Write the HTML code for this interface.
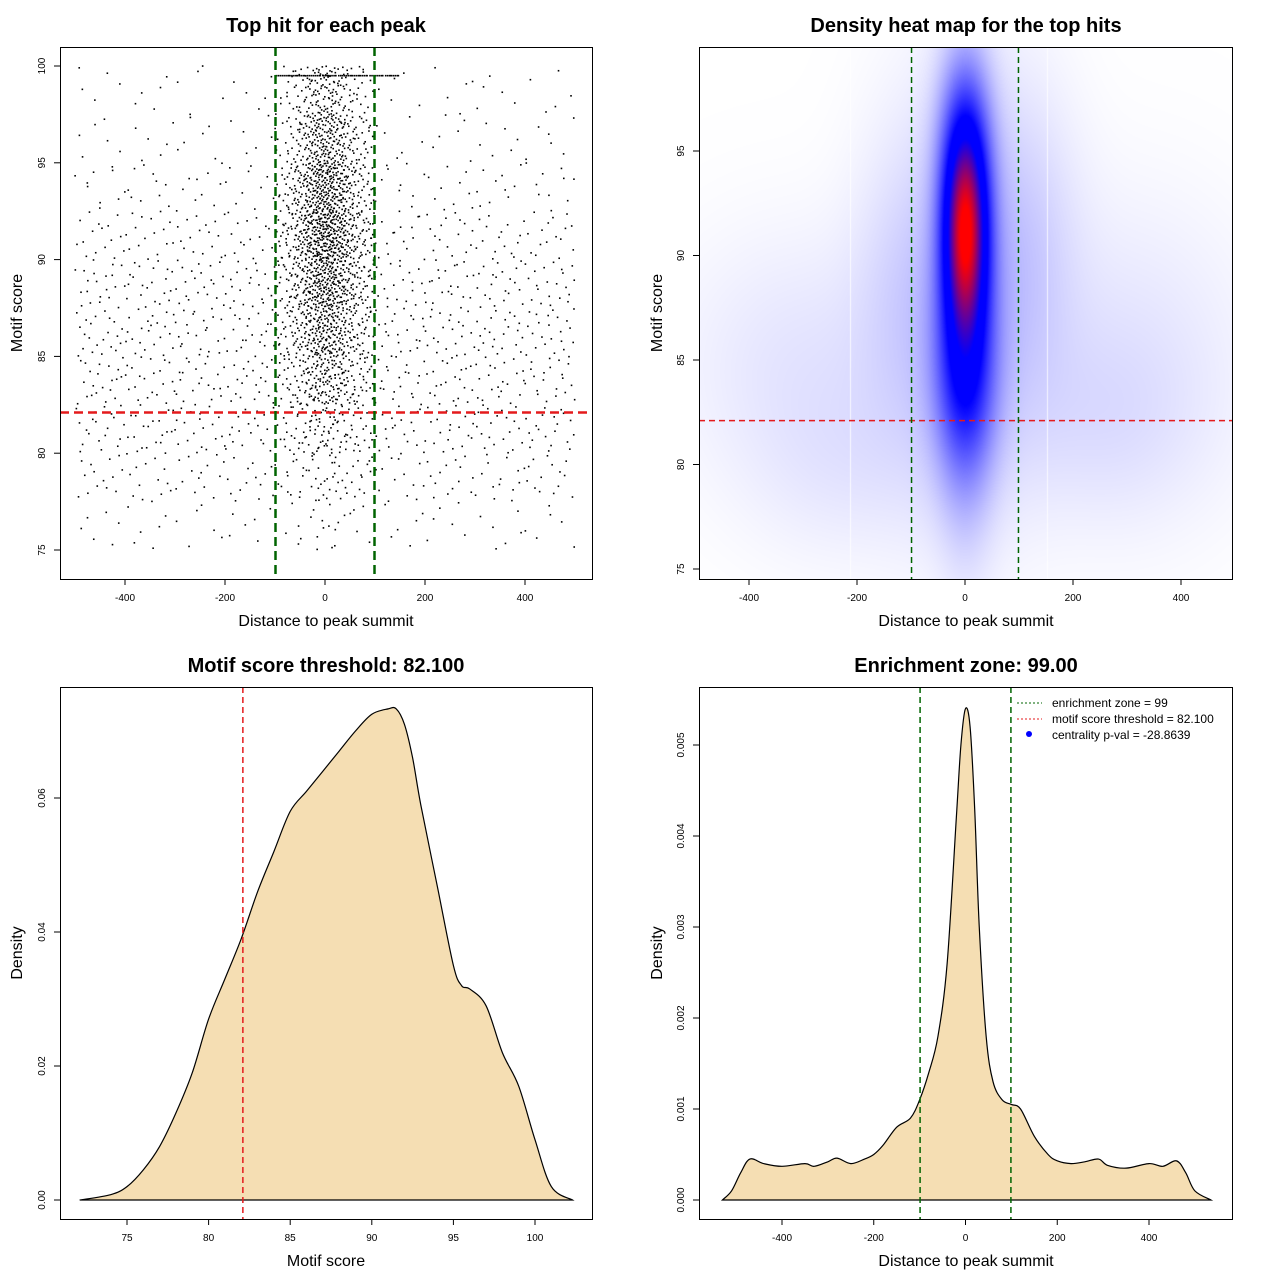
<!DOCTYPE html>
<html><head><meta charset="utf-8">
<style>
body{margin:0;background:#fff;width:1280px;height:1280px;overflow:hidden;position:relative;font-family:"Liberation Sans",sans-serif}
svg{position:absolute;left:0;top:0}
canvas{position:absolute;left:699px;top:47px}
</style></head>
<body>
<canvas id="heat" width="533" height="532"></canvas>
<svg id="s" width="1280" height="1280" xmlns="http://www.w3.org/2000/svg"></svg>
<script>
// ---------- data ----------
const bgYCounts=[6,14,20,21,22,21,16,10,6,5];
const bgXWeights=[1,1,1,1,1.3,1.3,1,1,1,1];
const centerYCounts=[8,22,55,150,230,310,390,340,230,140];
const centerXWeights=[0.02,0.04,0.08,0.14,0.2,0.2,0.15,0.09,0.05,0.03];
const topRowRange=[-100,150];
const topRowCount=70;
const thresholdScore=82.1;
const zone=99;
// heatmap gaussian components
const heatCx=[0,0,0,0,-300,300,100,-100,-220,250,0];
const heatCy=[91,88,95,84,85,85,90,88,80,82,88];
const heatSx=[26,34,30,40,150,150,70,70,120,120,90];
const heatSy=[3.0,5.5,3,3,4,5,5,5,3,3,7];
const heatW=[1.0,0.55,0.4,0.25,0.04,0.04,0.08,0.06,0.03,0.03,0.07];
// panel 3 density
const scoreX=[72.1,74,75,76,77,78,79,80,81,82,83,84,85,86,87,88,89,90,91,91.5,92,92.5,93,94,95,95.5,96,97,98,99,100,101,102.3];
const scoreD=[0,0.0008,0.002,0.0045,0.008,0.013,0.019,0.027,0.033,0.039,0.046,0.052,0.058,0.061,0.064,0.067,0.070,0.0725,0.0733,0.0733,0.071,0.066,0.059,0.047,0.035,0.032,0.0315,0.029,0.022,0.017,0.009,0.002,0];
// panel 4 density
const distX=[-530,-510,-490,-470,-440,-400,-350,-330,-300,-280,-250,-220,-200,-180,-150,-120,-100,-80,-60,-40,-20,-10,0,10,20,30,45,60,80,100,120,150,180,200,230,260,290,310,350,400,430,460,480,500,535];
const distD=[0,0.0001,0.0003,0.00045,0.0004,0.00037,0.0004,0.00037,0.00042,0.00046,0.0004,0.00045,0.0005,0.0006,0.0008,0.0009,0.0011,0.0014,0.0018,0.0026,0.0042,0.005,0.0054,0.0052,0.0043,0.003,0.0018,0.0013,0.0011,0.00105,0.001,0.0007,0.0005,0.00043,0.0004,0.00042,0.00045,0.00038,0.00035,0.0004,0.00037,0.00043,0.0003,0.0001,0];
const ticks1X=[-400,-200,0,200,400], ticks1Y=[75,80,85,90,95,100];
const ticks2Y=[75,80,85,90,95];
const ticks3X=[75,80,85,90,95,100], ticks3Y=[0,0.02,0.04,0.06];
const ticks4X=[-400,-200,0,200,400], ticks4Y=[0,0.001,0.002,0.003,0.004,0.005];
const ticks3YL=["0.00","0.02","0.04","0.06"], ticks4YL=["0.000","0.001","0.002","0.003","0.004","0.005"];

// ---------- helpers ----------
const S=document.getElementById('s');const NS='http://www.w3.org/2000/svg';
function el(t,a,p){const e=document.createElementNS(NS,t);for(const k in a)e.setAttribute(k,a[k]);(p||S).appendChild(e);return e;}
function lin(d0,d1,r0,r1){return v=>r0+(v-d0)*(r1-r0)/(d1-d0);}
const x1=lin(0,400,325,525), y1=lin(75,100,550,66);
const x2=lin(0,200,965,1073), y2=lin(75,95,569,151);
const x3=lin(75,100,127,535), y3=lin(0,0.06,1200,798);
const x4=lin(-400,400,782,1149), y4=lin(0,0.005,1200,745);
function halton(i,b){let f=1,r=0;while(i>0){f/=b;r+=f*(i%b);i=Math.floor(i/b);}return r;}

function frame(x0,y0,x1_,y1_,name){
 const r=el('rect',{x:x0+.5,y:y0+.5,width:x1_-x0,height:y1_-y0,fill:'none',stroke:'#000','stroke-width':1});
 
}
function text(x,y,s,o){const t=el('text',Object.assign({x:x,y:y,'text-anchor':'middle','font-family':'Liberation Sans, sans-serif'},o||{}));t.textContent=s;return t;}
function xticks(vals,sc,yb,labels,name){vals.forEach((v,i)=>{const x=sc(v);const l=el('line',{x1:x,x2:x,y1:yb,y2:yb+6,stroke:'#000'});const t=text(x,yb+22,labels?labels[i]:String(v),{'font-size':10});});}
function yticks(vals,sc,xb,labels,name){vals.forEach((v,i)=>{const y=sc(v);const l=el('line',{x1:xb-6,x2:xb,y1:y,y2:y,stroke:'#000'});const t=text(xb-15,y,labels?labels[i]:String(v),{'font-size':10,transform:`rotate(-90 ${xb-15} ${y})`});});}
function titles(cx,top,title,xl,ylab,yx,cy,p){
 let t=text(cx,top-15,title,{'font-size':20,'font-weight':'bold'});
 t=text(cx,top+579,xl,{'font-size':16});
 t=text(yx,cy,ylab,{'font-size':16,transform:`rotate(-90 ${yx} ${cy})`});
}
function smoothPath(xs,ys){let d=`M${xs[0]},${ys[0]}`;for(let i=0;i<xs.length-1;i++){const x0=xs[Math.max(0,i-1)],y0=ys[Math.max(0,i-1)],xa=xs[i],ya=ys[i],xb=xs[i+1],yb=ys[i+1],x3_=xs[Math.min(xs.length-1,i+2)],y3_=ys[Math.min(xs.length-1,i+2)];
 d+=` C${xa+(xb-x0)/6},${ya+(yb-y0)/6} ${xb-(x3_-xa)/6},${yb-(y3_-ya)/6} ${xb},${yb}`;}return d;}

// ---------- panel 1: scatter ----------
const g1=el('g',{});
let idx=1;
function dot(x,y){if(x<-520||x>520)return;el('rect',{x:x1(x)-.8,y:y1(y)-.8,width:1.6,height:1.6,fill:'#000'},g1);}
bgYCounts.forEach((c,yi)=>bgXWeights.forEach((w,xi)=>{const n=Math.round(c*w);for(let k=0;k<n;k++){idx++;dot(-500+xi*100+halton(idx,2)*100,75+yi*2.5+halton(idx,3)*2.5);}}));
centerYCounts.forEach((c,yi)=>centerXWeights.forEach((w,xi)=>{const n=Math.round(c*w);for(let k=0;k<n;k++){idx++;dot(-100+xi*20+halton(idx,2)*20,75+yi*2.5+halton(idx,3)*2.5);}}));
for(let k=0;k<topRowCount;k++){idx++;dot(topRowRange[0]+halton(idx,2)*(topRowRange[1]-topRowRange[0]),99.5);}
let l=el('line',{x1:60,x2:592,y1:y1(thresholdScore),y2:y1(thresholdScore),stroke:'#e41a1c','stroke-width':2.5,'stroke-dasharray':'9,5'});
[-zone,zone].forEach(v=>{l=el('line',{x1:x1(v),x2:x1(v),y1:47,y2:579,stroke:'#006400','stroke-width':2.5,'stroke-dasharray':'9,5'});});
frame(60,47,592,579,'scatter-plot-area');
xticks(ticks1X,x1,579,null,'scatter-x');yticks(ticks1Y,y1,60,null,'scatter-y');
titles(326,47,'Top hit for each peak','Distance to peak summit','Motif score',22,313,'scatter');

// ---------- panel 2: heatmap ----------
(function(){const c=document.getElementById('heat').getContext('2d');const W=533,H=532;const img=c.createImageData(W,H);
 const vals=new Float32Array(W*H);let mx=0;
 for(let py=0;py<H;py++){const yv=75+(569-(py+47))*20/(569-151);for(let px=0;px<W;px++){const xv=(px+699-965)*200/108;let d=0;for(let k=0;k<heatW.length;k++){const dx=(xv-heatCx[k])/heatSx[k],dy=(yv-heatCy[k])/heatSy[k];d+=heatW[k]*Math.exp(-0.5*(dx*dx+dy*dy));}vals[py*W+px]=d;if(d>mx)mx=d;}}
 for(let i=0;i<W*H;i++){let d=vals[i]/mx;let r,g,b;if(d<0.4){const t=Math.pow(d/0.4,0.8);r=255*(1-t);g=255*(1-t);b=255;}else{const t=Math.min(1,(d-0.55)/0.4);const tt=Math.max(0,t);r=255*tt;g=0;b=255*(1-tt);}img.data[i*4]=r;img.data[i*4+1]=g;img.data[i*4+2]=b;img.data[i*4+3]=255;}
 c.putImageData(img,0,0);c.fillStyle='rgba(255,255,255,0.8)';c.fillRect(850-699,0,1,H);c.fillRect(1047-699,0,1,H);})();
l=el('line',{x1:699,x2:1232,y1:y2(thresholdScore),y2:y2(thresholdScore),stroke:'#e41a1c','stroke-width':1.5,'stroke-dasharray':'6,4'});
[-zone,zone].forEach(v=>{l=el('line',{x1:x2(v),x2:x2(v),y1:47,y2:579,stroke:'#006400','stroke-width':1.5,'stroke-dasharray':'6,4'});});
frame(699,47,1232,579,'heatmap-plot-area');
xticks(ticks1X,x2,579,null,'heatmap-x');yticks(ticks2Y,y2,699,null,'heatmap-y');
titles(966,47,'Density heat map for the top hits','Distance to peak summit','Motif score',662,313,'heatmap');

// ---------- panel 3: score density ----------
let p=el('path',{d:smoothPath(scoreX.map(x3),scoreD.map(y3))+' Z',fill:'#f5deb3',stroke:'#000','stroke-width':1.2});
l=el('line',{x1:x3(thresholdScore),x2:x3(thresholdScore),y1:687,y2:1219,stroke:'#e41a1c','stroke-width':1.5,'stroke-dasharray':'6,4'});
frame(60,687,592,1219,'score-density-plot-area');
xticks(ticks3X,x3,1219,null,'score-x');yticks(ticks3Y,y3,60,ticks3YL,'score-y');
titles(326,687,'Motif score threshold: 82.100','Motif score','Density',22,953,'score-density');

// ---------- panel 4: distance density ----------
p=el('path',{d:smoothPath(distX.map(x4),distD.map(y4))+' Z',fill:'#f5deb3',stroke:'#000','stroke-width':1.2});
[-zone,zone].forEach(v=>{l=el('line',{x1:x4(v),x2:x4(v),y1:687,y2:1219,stroke:'#006400','stroke-width':1.5,'stroke-dasharray':'6,4'});});
frame(699,687,1232,1219,'distance-density-plot-area');
xticks(ticks4X,x4,1219,null,'distance-x');yticks(ticks4Y,y4,699,ticks4YL,'distance-y');
titles(966,687,'Enrichment zone: 99.00','Distance to peak summit','Density',662,953,'distance-density');
// legend
const lg=el('g',{});
[['enrichment zone = 99','#006400',703],['motif score threshold = 82.100','#e41a1c',719]].forEach(([s,c,y])=>{el('line',{x1:1017,x2:1042,y1:y,y2:y,stroke:c,'stroke-dasharray':'2,2'},lg);const t=text(1052,y+4,s,{'font-size':12,'text-anchor':'start'});lg.appendChild(t);});
el('circle',{cx:1029,cy:734,r:3,fill:'#0000ff'},lg);
const t3=text(1052,739,'centrality p-val = -28.8639',{'font-size':12,'text-anchor':'start'});lg.appendChild(t3);
</script>
</body></html>
